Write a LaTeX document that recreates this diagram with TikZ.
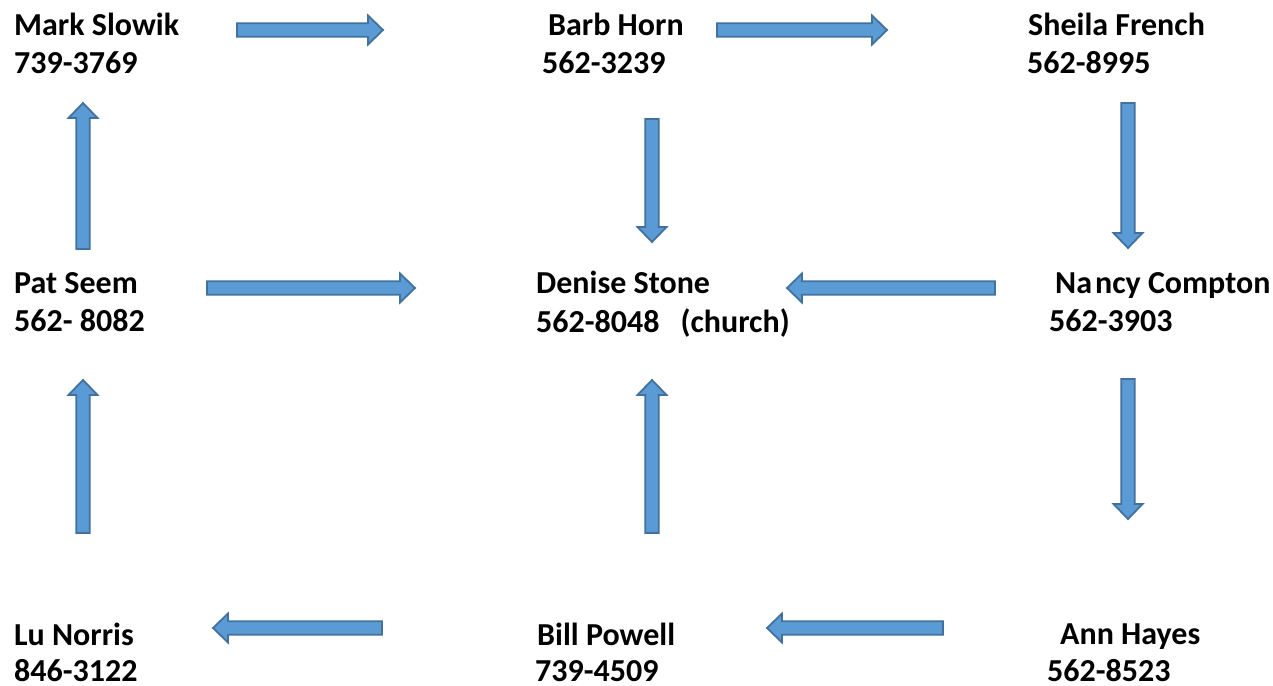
\documentclass[tikz,border=0pt]{standalone}
\usepackage{fontspec}
\setmainfont{Carlito}
\definecolor{arrowblue}{HTML}{5B9BD5}
\definecolor{arrowedge}{HTML}{41719C}
\tikzset{
  person/.style={anchor=base west, inner sep=0pt, font=\fontsize{32}{38}\selectfont\bfseries},
  blockarr/.style={fill=arrowblue, draw=arrowedge, line width=1.8pt}
}
% block arrow: tail point, length, direction
\newcommand{\blockarrow}[3]{%
  \begin{scope}[shift={#1}, rotate=#3]
    \draw[blockarr] (0,-6.75) -- ({#2-15},-6.75) -- ({#2-15},-14.5) -- (#2,0)
      -- ({#2-15},14.5) -- ({#2-15},6.75) -- (0,6.75) -- cycle;
  \end{scope}}
\begin{document}
\begin{tikzpicture}[x=1pt,y=-1pt]
    \useasboundingbox (0,0) rectangle (1273,685);
    % top row
    \node[person] (mark) at (14,36) {Mark Slowik};
    \node[person] (markno) at (14,74) {739-3769};
    \node[person] (barb) at (548,36) {Barb Horn};
    \node[person] (barbno) at (542,74) {562-3239};
    \node[person] (sheila) at (1028,36) {Sheila French};
    \node[person] (sheilano) at (1027,74) {562-8995};
    % middle row
    \node[person] (pat) at (14,293) {Pat Seem};
    \node[person] (patno) at (14,331) {562- 8082};
    \node[person] (denise) at (536,293) {Denise Stone};
    \node[person] (deniseno) at (536,332) {562-8048\hspace{21pt}(church)};
    \node[person] (nancy) at (1055,293) {Na\kern3pt ncy Compton};
    \node[person] (nancyno) at (1049,331) {562-3903};
    % bottom row
    \node[person] (lu) at (14,645) {Lu Norris};
    \node[person] (luno) at (14,681) {846-3122};
    \node[person] (bill) at (537,645) {Bill Powell};
    \node[person] (billno) at (535,681) {739-4509};
    \node[person] (ann) at (1060,644) {Ann Hayes};
    \node[person] (annno) at (1047,681) {562-8523};
    % arrows
    \blockarrow{(237,30)}{146}{0}
    \blockarrow{(717,30)}{170}{0}
    \blockarrow{(652,119)}{123}{-90}
    \blockarrow{(1128,103)}{145}{-90}
    \blockarrow{(83,249)}{146}{90}
    \blockarrow{(207,288)}{208}{0}
    \blockarrow{(995,288)}{208}{180}
    \blockarrow{(1128,379)}{140}{-90}
    \blockarrow{(83,533)}{153}{90}
    \blockarrow{(652,533)}{153}{90}
    \blockarrow{(382,628)}{169}{180}
    \blockarrow{(943,628)}{176}{180}
\end{tikzpicture}
\end{document}
